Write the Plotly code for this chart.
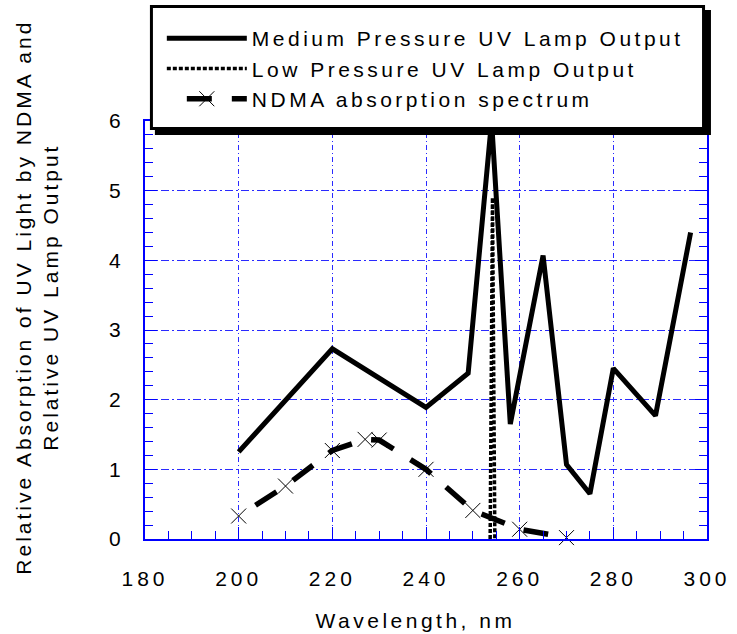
import plotly.graph_objects as go

# Medium pressure mercury lamp: relative output at its emission lines
mp_wavelength = [200, 220, 240, 249, 254, 258, 265, 270, 275, 280, 289, 296.5]
mp_output = [1.25, 2.73, 1.89, 2.38, 6.0, 1.65, 4.07, 1.07, 0.65, 2.45, 1.77, 4.4]

# Low pressure mercury lamp: the single 254 nm line
lp_wavelength = [253.7, 254.2, 254.7]
lp_output = [0, 4.9, 0]

# NDMA absorption spectrum
ndma_wavelength = [200, 210, 220, 227, 230, 240, 250, 260, 270]
ndma_absorption = [0.33, 0.76, 1.27, 1.43, 1.42, 1.0, 0.41, 0.14, 0.02]

x_ticks = [180, 200, 220, 240, 260, 280, 300]
y_ticks = [0, 1, 2, 3, 4, 5, 6]

W, H = 737, 634
ML, MR, MT, MB = 145, 24, 121, 95
FONT = "Liberation Sans, Arial, sans-serif"
BLUE = "#0000ff"


def paper_x(px):
    return (px - ML) / (W - ML - MR)


def paper_y(py):
    return (H - MB - py) / (H - MT - MB)


fig = go.Figure()

fig.add_trace(go.Scatter(
    x=mp_wavelength, y=mp_output, mode="lines",
    name="Medium Pressure UV Lamp Output",
    line=dict(color="black", width=5),
))
fig.add_trace(go.Scatter(
    x=lp_wavelength, y=lp_output, mode="lines",
    name="Low Pressure UV Lamp Output",
    line=dict(color="black", width=3.5, dash="4px,2px"),
))
fig.add_trace(go.Scatter(
    x=ndma_wavelength, y=ndma_absorption, mode="lines+markers",
    name="NDMA absorption spectrum",
    line=dict(color="black", width=5.5, dash="0px,20px,25px,0px"),
    marker=dict(symbol="x-thin", size=15, color="black",
                line=dict(color="black", width=1)),
    cliponaxis=False,
))

axis_common = dict(
    showline=True, linecolor=BLUE, linewidth=2, mirror="ticks",
    ticks="inside", ticklen=12, tickwidth=1, tickcolor=BLUE,
    showgrid=True, gridcolor="#2a2aff", gridwidth=1,
    zeroline=False,
    tickfont=dict(family=FONT, size=21, color="black"),
)

fig.update_xaxes(
    range=[180, 300], tickmode="array", tickvals=x_ticks,
    ticktext=[str(v) for v in x_ticks],
    griddash="5px,3px,1px,3px",
    minor=dict(dtick=5, ticks="inside", ticklen=8, tickcolor=BLUE, showgrid=False),
    ticklabelstandoff=20,
    **axis_common,
)
fig.update_yaxes(
    range=[0, 6], tickmode="array", tickvals=y_ticks,
    ticktext=[str(v) for v in y_ticks],
    griddash="8px,3px,2px,3px",
    minor=dict(dtick=0.2, ticks="inside", ticklen=8, tickcolor=BLUE, showgrid=False),
    ticklabelstandoff=14,
    **axis_common,
)

# legend frame with drop shadow
fig.add_shape(type="rect", xref="paper", yref="paper", layer="above",
              x0=paper_x(155), x1=paper_x(717), y0=paper_y(135), y1=paper_y(10),
              fillcolor="black", line=dict(width=0))
fig.add_shape(type="rect", xref="paper", yref="paper", layer="above",
              x0=paper_x(151.5), x1=paper_x(709.5), y0=paper_y(128.5), y1=paper_y(6.5),
              fillcolor="white", line=dict(color="black", width=3))

fig.add_annotation(
    text="Relative Absorption of UV Light by NDMA and<br>Relative UV Lamp Output",
    textangle=-90, xref="paper", yref="paper",
    x=paper_x(36), y=paper_y(297), xanchor="center", yanchor="middle",
    showarrow=False, font=dict(family=FONT, size=21, color="black"),
)
fig.add_annotation(
    text="Wavelength, nm", xref="paper", yref="paper",
    x=paper_x(418), y=paper_y(620), xanchor="center", yanchor="middle",
    showarrow=False, font=dict(family=FONT, size=21, color="black"),
)

fig.update_layout(
    width=W, height=H,
    margin=dict(l=ML, r=MR, t=MT, b=MB, pad=0),
    paper_bgcolor="white", plot_bgcolor="white",
    font=dict(family=FONT, size=21, color="black"),
    showlegend=True,
    legend=dict(
        x=paper_x(162), y=paper_y(18), xanchor="left", yanchor="top",
        bgcolor="rgba(0,0,0,0)", borderwidth=0,
        font=dict(family=FONT, size=21, color="black"),
        itemwidth=80, traceorder="normal", tracegroupgap=0,
    ),
)

# widen the letter spacing of the labels once the plot is drawn,
# and let the legend text run past its original clip box
spacing_js = """
var gd = document.getElementById('{plot_id}');
gd.querySelectorAll('text').forEach(function(t){ t.style.letterSpacing = '3.5px'; });
gd.querySelectorAll('.xtick text, .ytick text').forEach(function(t){ t.style.letterSpacing = '4px'; });
var ann = gd.querySelectorAll('.annotation-text');
if (ann.length) { ann[0].style.letterSpacing = '3px'; }
gd.querySelectorAll('.legend [clip-path]').forEach(function(e){ e.removeAttribute('clip-path'); });
"""

fig.write_html("out.html", config={"displayModeBar": False}, post_script=spacing_js)
